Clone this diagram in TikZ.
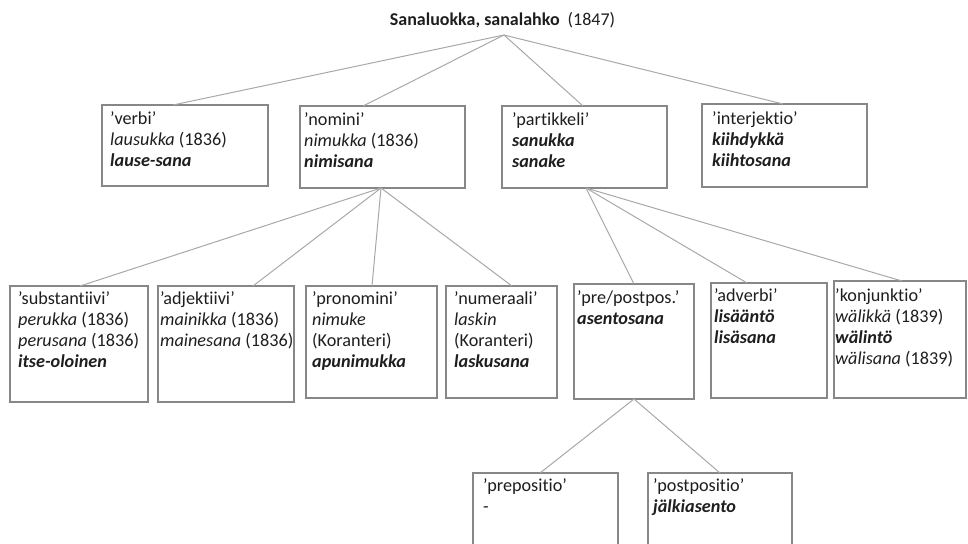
\documentclass[tikz,border=0pt]{standalone}
\usepackage{fontspec}
\setmainfont{Carlito}[Ligatures=NoCommon]
\usetikzlibrary{calc}
\definecolor{boxline}{HTML}{878787}
\definecolor{linkline}{HTML}{A8A8A8}
\definecolor{ink}{HTML}{1E1E1E}
\newcommand\bfit[1]{\textbf{\textit{#1}}}
\begin{document}
\begin{tikzpicture}[x=1pt,y=-1pt,
  box/.style={draw=boxline, line width=1.2pt, inner sep=0pt, outer sep=0pt, anchor=north west},
  txt/.style={anchor=north west, inner sep=0pt, align=left, text=ink,
    font=\fontsize{18.2}{21}\selectfont, execute at begin node=\rule{0pt}{15pt}},
  link/.style={draw=linkline, line width=1pt}]
\useasboundingbox (0,0) rectangle (968,543);
\clip (0,0) rectangle (968,543);

% root title
\node[anchor=base, inner sep=0pt, text=ink, font=\fontsize{18}{21}\selectfont] (title) at (502.5,26)
  {\textbf{Sanaluokka, sanalahko}\ \ (1847)};
\coordinate (root) at ($(title.base)+(1.5,9)$);

% level 1
\node[box, minimum width=166pt, minimum height=81pt] (verbi) at (102,105) {};
\node[box, minimum width=165pt, minimum height=82pt] (nomini) at (300,106) {};
\node[box, minimum width=165pt, minimum height=82pt] (partikkeli) at (502,106) {};
\node[box, minimum width=165pt, minimum height=83pt] (interjektio) at (702,104) {};

\node[txt] (verbi-t) at ($(verbi.north west)+(8,6)$)
  {’verbi’\\\textit{lausukka} (1836)\\\bfit{lause-sana}};
\node[txt] (nomini-t) at ($(nomini.north west)+(4,6)$)
  {’nomini’\\\textit{nimukka} (1836)\\\bfit{nimisana}};
\node[txt] (partikkeli-t) at ($(partikkeli.north west)+(10,6)$)
  {’partikkeli’\\\bfit{sanukka}\\\bfit{sanake}};
\node[txt] (interjektio-t) at ($(interjektio.north west)+(10,7)$)
  {’interjektio’\\\bfit{kiihdykkä}\\\bfit{kiihtosana}};

% level 2
\node[box, minimum width=138pt, minimum height=116pt] (subst) at (10,286) {};
\node[box, minimum width=136pt, minimum height=116pt] (adj) at (158,286) {};
\node[box, minimum width=131pt, minimum height=112pt] (pron) at (306,286) {};
\node[box, minimum width=111pt, minimum height=112pt] (num) at (446,286) {};
\node[box, minimum width=120pt, minimum height=115pt] (prepost) at (574,284) {};
\node[box, minimum width=116pt, minimum height=115pt] (adverbi) at (711,283) {};
\node[box, minimum width=132pt, minimum height=117pt] (konj) at (834,281) {};

\node[txt] (subst-t) at ($(subst.north west)+(8,5)$)
  {’substantiivi’\\\textit{perukka} (1836)\\\textit{perusana} (1836)\\\bfit{itse-oloinen}};
\node[txt] (adj-t) at ($(adj.north west)+(2,5)$)
  {’adjektiivi’\\\textit{mainikka} (1836)\\\textit{mainesana} (1836)};
\node[txt] (pron-t) at ($(pron.north west)+(6,5)$)
  {’pronomini’\\\textit{nimuke}\\(Koranteri)\\\bfit{apunimukka}};
\node[txt] (num-t) at ($(num.north west)+(8,5)$)
  {’numeraali’\\\textit{laskin}\\(Koranteri)\\\bfit{laskusana}};
\node[txt] (prepost-t) at ($(prepost.north west)+(3,6)$)
  {’pre/postpos.’\\\bfit{asentosana}};
\node[txt] (adverbi-t) at ($(adverbi.north west)+(3,5)$)
  {’adverbi’\\\bfit{lisääntö}\\\bfit{lisäsana}};
\node[txt] (konj-t) at ($(konj.north west)+(1,7)$)
  {’konjunktio’\\\textit{wälikkä} (1839)\\\bfit{wälintö}\\\textit{wälisana} (1839)};

% level 3 (running off the lower edge)
\node[box, minimum width=145pt, minimum height=90pt] (prep) at (473,473) {};
\node[box, minimum width=144pt, minimum height=90pt] (postp) at (648,473) {};

\node[txt] (prep-t) at ($(prep.north west)+(10,5)$)
  {’prepositio’\\-};
\node[txt] (postp-t) at ($(postp.north west)+(5,5)$)
  {’postpositio’\\\bfit{jälkiasento}};

% connectors
\draw[link] (root) -- ($(verbi.north west)+(71,0)$);
\draw[link] (root) -- ($(nomini.north west)+(63,0)$);
\draw[link] (root) -- ($(partikkeli.north west)+(81,0)$);
\draw[link] (root) -- ($(interjektio.north west)+(81,0)$);

\coordinate (nomini-b) at ($(nomini.south west)+(81,0)$);
\draw[link] (nomini-b) -- ($(subst.north west)+(70,0)$);
\draw[link] (nomini-b) -- ($(adj.north west)+(95,0)$);
\draw[link] (nomini-b) -- ($(pron.north west)+(66,0)$);
\draw[link] (nomini-b) -- ($(num.north west)+(66,0)$);

\coordinate (partikkeli-b) at ($(partikkeli.south west)+(84,0)$);
\draw[link] (partikkeli-b) -- ($(prepost.north west)+(60,0)$);
\draw[link] (partikkeli-b) -- ($(adverbi.north west)+(36,0)$);
\draw[link] (partikkeli-b) -- ($(konj.north west)+(68,0)$);

\coordinate (prepost-b) at ($(prepost.south west)+(60,0)$);
\draw[link] (prepost-b) -- ($(prep.north west)+(67,0)$);
\draw[link] (prepost-b) -- ($(postp.north west)+(72,0)$);
\end{tikzpicture}
\end{document}
